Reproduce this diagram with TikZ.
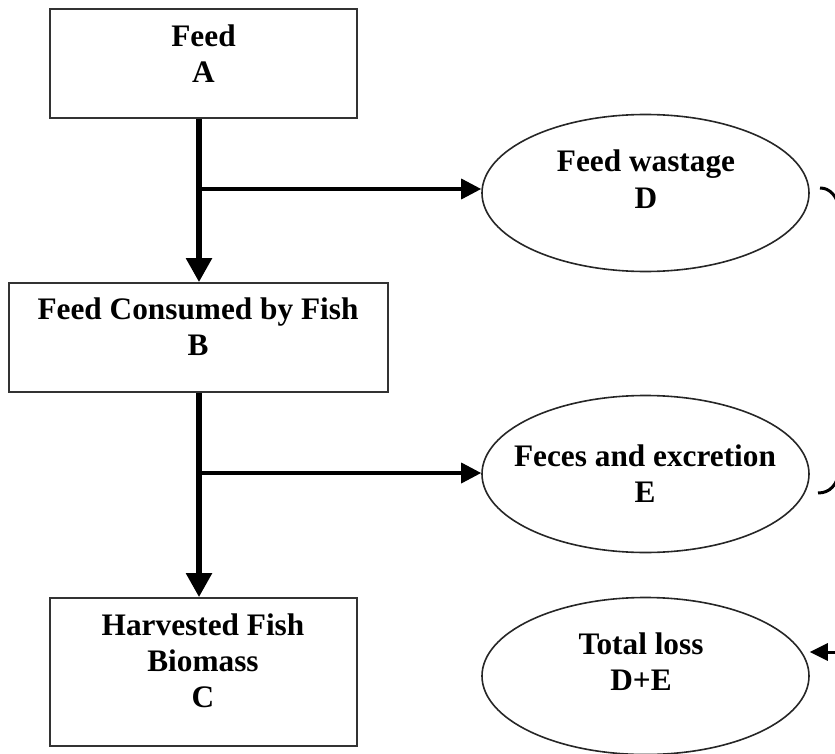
\documentclass[tikz,border=0pt]{standalone}
\usepackage{fontspec}
\setmainfont{Liberation Serif}
\usetikzlibrary{arrows.meta,shapes.geometric}
\begin{document}
\begin{tikzpicture}[x=1pt,y=-1pt,
  box/.style={draw=black!80, line width=1.8pt, inner sep=0pt},
  oval/.style={ellipse, draw=black!85, line width=1.6pt, inner sep=0pt, minimum width=327pt, minimum height=157pt},
  lbl/.style={font=\fontsize{31.3}{36}\selectfont\bfseries, align=center, anchor=base, inner sep=0pt},
  flow/.style={line width=5.5pt, -{Triangle[length=24pt,width=25pt]}},
  branch/.style={line width=3.5pt, -{Triangle[length=20pt,width=20pt]}},
  bracket/.style={line width=3pt}]
\useasboundingbox (0,0) rectangle (835,754);
% boxes
\node[box, minimum width=307pt, minimum height=109pt] (A) at (203.5,63.5) {};
\node[box, minimum width=379pt, minimum height=109pt] (B) at (198.5,337.5) {};
\node[box, minimum width=307pt, minimum height=148pt] (C) at (203.5,672) {};
% ellipses
\node[oval] (D) at (645.5,193) {};
\node[oval] (E) at (645.5,474) {};
\node[oval] (T) at (645.5,676) {};
% labels (anchored at the baseline of the last line)
\node[lbl] (At) at (203.5,83) {Feed\\A};
\node[lbl] (Bt) at (198,355) {Feed Consumed by Fish\\B};
\node[lbl] (Ct) at (203,707) {Harvested Fish\\Biomass\\C};
\node[lbl] (Dt) at (646,208) {Feed wastage\\D};
\node[lbl] (Et) at (645,502) {Feces and excretion\\E};
\node[lbl] (Tt) at (641,690) {Total loss\\D+E};
% connectors
\coordinate (j1) at (199,189);
\coordinate (j2) at (199,473);
\draw[flow] (A.south -| j1) -- (B.north -| j1);
\draw[branch] (j1) -- (j1 -| D.west);
\draw[flow] (B.south -| j2) -- (C.north -| j2);
\draw[branch] (j2) -- (j2 -| E.west);
% bracket and total arrow (running off the right edge)
\coordinate (bt) at (820,188);
\coordinate (bb) at (818,493);
\coordinate (tin) at (838,652);
\begin{scope}
\clip (0,0) rectangle (835,754);
\draw[bracket] (bt) .. controls (830,188) and (837,196) .. (840,210);
\draw[bracket] (bb) .. controls (830,493) and (837,485) .. (840,470);
\draw[line width=3pt, -{Triangle[length=18pt,width=17pt]}] (tin) -- (tin -| T.east);
\end{scope}
\end{tikzpicture}
\end{document}
